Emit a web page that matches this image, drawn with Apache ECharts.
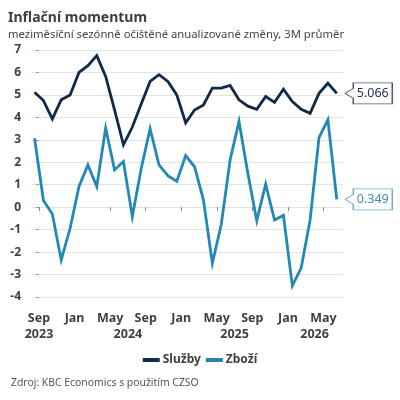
<!DOCTYPE html>
<html>
<head>
<meta charset="utf-8">
<script src="https://cdn.jsdelivr.net/npm/echarts@6/dist/echarts.min.js"></script>
<style>html,body{margin:0;padding:0;background:#fff}#c{width:400px;height:400px}</style>
</head>
<body>
<div id="c"></div>
<script>
// Months (mid-month observations), Aug 2023 .. Jun 2026
const months = ['2023-08','2023-09','2023-10','2023-11','2023-12','2024-01','2024-02','2024-03','2024-04','2024-05','2024-06','2024-07','2024-08','2024-09','2024-10','2024-11','2024-12','2025-01','2025-02','2025-03','2025-04','2025-05','2025-06','2025-07','2025-08','2025-09','2025-10','2025-11','2025-12','2026-01','2026-02','2026-03','2026-04','2026-05','2026-06'];
const sluzby = [5.12,4.75,3.93,4.78,5.0,6.0,6.3,6.75,5.82,4.33,2.78,3.57,4.6,5.6,5.9,5.6,5.0,3.76,4.33,4.55,5.3,5.3,5.42,4.78,4.5,4.36,4.93,4.67,5.25,4.7,4.36,4.18,5.07,5.52,5.066];
const zbozi = [3.07,0.3,-0.3,-2.35,-0.94,0.92,1.88,0.92,3.52,1.66,2.03,-0.42,1.72,3.5,1.88,1.4,1.15,2.3,1.8,0.33,-2.5,-0.78,2.1,3.82,1.5,-0.6,1.03,-0.57,-0.37,-3.5,-2.7,-0.57,3.1,3.9,0.349];
const seriesNames = ['Služby','Zboží'];
const monthTickLabels = ['Sep','Jan','May','Sep','Jan','May','Sep','Jan','May'];
const yearLabels = ['2023','2024','2025','2026'];
const yearLabelMonths = [0,10,22,31]; // months after Sep 2023 where year label is centred
const monthTickMonths = [0,4,8,12,16,20,24,28,32];

const colors = ['#102a4c','#2288b6'];
const boxBorders = ['#4b5b70','#6aaed0'];
const boxText = ['#1c3152','#3a8db6'];
const FONT = 'Noto Sans';
const txt = '#404040';

// x position: months since 1 Sep 2023; observations mid-month
function pairs(vals){ return vals.map((v,i)=>[i-0.5, v]); }

function callout(vals, idx){
  const last = vals.length-1;
  return {
    symbol: 'path://M0,10.5L8,5.5L8,0L47,0L47,21L8,21L8,15.5Z',
    symbolSize: [47,21],
    symbolOffset: [32,0],
    silent: true,
    itemStyle: {color:'#fff', borderColor: boxBorders[idx], borderWidth: 1},
    label: {show:true, position:'inside', offset:[4,0], color: boxText[idx], fontFamily: FONT, fontSize: 12.5,
      formatter: p => vals[last].toFixed(3)},
    data: [{coord:[last-0.5, vals[last]], value: vals[last]}]
  };
}

const chart = echarts.init(document.getElementById('c'), null, {renderer:'canvas'});
chart.setOption({
  animation: false,
  title: [
    {text:'Inflační momentum', left: 3, top: 6,
     textStyle:{fontFamily:FONT, fontSize:14, fontWeight:'bold', color:'#3f3f3f'},
     subtext:'meziměsíční sezónně očištěné anualizované změny, 3M průměr',
     subtextStyle:{fontFamily:FONT, fontSize:11.3, color:'#444'}, itemGap: 4},
    {text:'Zdroj: KBC Economics s použitím CZSO', left: 6, top: 373,
     textStyle:{fontFamily:FONT, fontSize:10.4, fontWeight:'normal', color:'#555'}}
  ],
  legend: {
    top: 349, left: 'center', icon: 'rect', itemWidth: 17, itemHeight: 4, itemGap: 5,
    textStyle: {fontFamily:FONT, fontSize:12, fontWeight:'bold', color:txt, padding:[0,0,0,-2]},
    data: seriesNames
  },
  grid: {left:31, right:57, top:50, bottom:103, containLabel:false, outerBoundsMode:'none'},
  xAxis: [
    {type:'value', min:-0.9, max:34.2, offset:6,
     axisLine:{show:false}, splitLine:{show:false},
     axisTick:{show:true, length:4, customValues: monthTickMonths, lineStyle:{color:'#888'}},
     axisLabel:{show:true, customValues: monthTickMonths, margin:9,
       formatter: v => monthTickLabels[monthTickMonths.indexOf(v)] || '',
       fontFamily:FONT, fontSize:12.5, fontWeight:'bold', color:txt}},
    {type:'value', min:-0.9, max:34.2, position:'bottom', offset:6,
     axisLine:{show:false}, splitLine:{show:false}, axisTick:{show:false},
     axisLabel:{show:true, customValues: yearLabelMonths, margin:25,
       formatter: v => yearLabels[yearLabelMonths.indexOf(v)] || '',
       fontFamily:FONT, fontSize:12.5, fontWeight:'bold', color:txt}}
  ],
  yAxis: {type:'value', min:-4, max:7, interval:1, offset:2,
    axisLine:{show:false},
    axisTick:{show:true, length:3, lineStyle:{color:'#999'}},
    axisLabel:{margin:8, fontFamily:FONT, fontSize:12, fontWeight:'bold', color:txt},
    splitLine:{lineStyle:{color:'#e3e3e3', width:1}}},
  series: [
    {name: seriesNames[0], type:'line', data: pairs(sluzby), xAxisIndex:0, showSymbol:false, symbol:'none',
     lineStyle:{width:2.8, color:colors[0], join:'miter'}, itemStyle:{color:colors[0]},
     markPoint: callout(sluzby,0), z:3},
    {name: seriesNames[1], type:'line', data: pairs(zbozi), xAxisIndex:0, showSymbol:false, symbol:'none',
     lineStyle:{width:2.8, color:colors[1], join:'miter'}, itemStyle:{color:colors[1]},
     markPoint: callout(zbozi,1), z:2}
  ]
});
</script>
</body>
</html>
